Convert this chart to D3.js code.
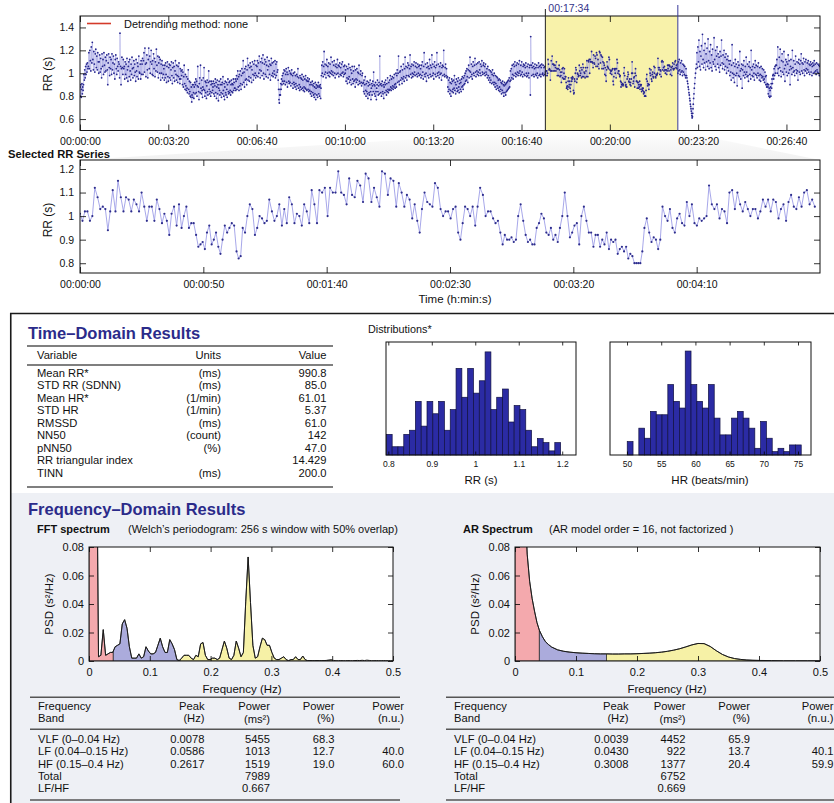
<!DOCTYPE html>
<html>
<head>
<meta charset="utf-8">
<script src="https://cdn.jsdelivr.net/npm/d3@7"></script>
<style>
  body { margin: 0; background: #fff; }
  svg { display: block; }
</style>
</head>
<body>
<svg id="chart" width="834" height="803"></svg>
<script>
// ---------------- data ----------------
// RR intervals (ms) of the whole recording, split around the analysed window
const rrBefore = [
880,800,900,790,860,910,820,880,850,
900,990,940,1030,960,1060,990,1080,1010,1090,1040,
1060,1180,1040,1200,1110,1020,1230,1090,1270,1120,1030,1190,1080,1010,1170,1210,1050,1150,1030,1180,1100,1000,
1100,1160,1010,1130,1040,960,1170,1060,1120,990,1180,1070,1010,1140,1020,1110,1160,1030,900,1090,1170,1050,980,1140,1040,1120,990,1170,1030,1090,1150,1000,1080,950,1120,1160,1040,990,1130,1060,1020,1100,
1080,960,1350,1060,900,1040,1140,1050,990,1120,1040,
1060,950,1100,990,1080,960,1130,1030,930,1060,1100,970,1120,1020,940,1080,990,1140,1040,960,1050,1110,980,1080,1010,930,1120,1020,970,1090,1060,950,1150,1010,1000,1080,950,1110,990,
1080,1130,990,1110,1180,1010,1220,1080,970,1090,1160,1030,960,1120,1220,1040,1150,1000,1100,1200,1080,990,1110,980,1170,1040,1130,970,1100,1020,1210,1070,1010,1150,960,1090,1140,1000,1120,940,1080,1000,1110,960,1070,990,
1040,940,1070,960,1090,990,920,1060,1100,970,930,1050,1080,960,1070,940,1030,1100,980,910,1050,1090,960,1060,930,1020,1110,990,940,1070,980,920,1060,970,1090,950,910,1040,950,1020,
980,1030,900,1010,880,970,1070,910,860,990,890,850,970,870,830,950,1030,860,820,930,840,800,920,790,880,750,810,900,790,900,830,780,880,920,820,
900,950,830,930,800,890,1060,880,840,770,910,960,830,1070,870,820,940,850,790,880,960,860,1050,850,800,930,830,920,780,890,940,840,810,920,1020,860,820,930,840,800,900,930,830,910,850,
880,930,820,910,800,890,950,830,920,780,880,940,820,900,760,870,930,850,810,900,950,830,790,900,920,820,970,850,800,910,770,880,930,830,810,920,860,790,900,950,840,820,920,830,930,850,810,900,940,840,910,830,900,950,850,920,870,
870,950,850,930,980,860,950,1020,880,970,850,990,890,1020,910,860,980,1040,900,1000,1110,920,1010,880,1040,940,1060,950,900,1030,1130,940,1070,970,930,1050,1090,960,1060,920,1030,1100,990,940,1080,980,1110,1000,960,1070,980,
1060,1110,970,1090,1000,1150,1030,960,1100,1020,1130,980,1090,1160,1000,950,1080,1120,990,1100,970,1070,1140,1030,960,1060,1110,990,1080,940,1070,1130,980,1090,1000,970,1100,1020,990,1110,960,1080,980,1100,1010,
1030,940,860,770,740,810,860,810,910,860,950,900,980,930,
1000,910,1030,930,1020,900,990,1040,920,1010,880,990,1050,930,910,1020,920,1000,890,990,1030,910,980,870,1000,920,900,1010,880,980,910,860,990,890,970,1040,870,960,900,850,980,880,960,860,950,990,870,940,850,970,880,840,950,870,980,860,940,850,930,960,860,930,840,950,850,
900,820,920,840,800,900,930,830,890,810,910,790,880,820,920,770,870,900,810,890,790,880,920,820,890,800,880,900,780,870,
980,1070,1000,1100,970,1060,1190,990,1080,1010,960,1070,1120,1000,1060,980,1090,1010,970,1080,1000,1140,1020,990,1100,1010,980,1070,1110,1000,960,1060,1080,990,1050,1120,1000,1070,970,1060,1090,990,1050,980,1080,1000,1100,1010,970,1060,990,1070,1000,
1030,930,1060,960,910,1040,950,1080,970,920,1050,940,1030,900,1000,1060,950,910,1020,930,1060,940,880,1030,950,920,1040,940,1010,900,1000,1070,930,910,990,1020,920,890,980,1000,910,
920,840,940,820,900,970,850,800,910,840,930,820,780,890,920,830,810,900,940,840,770,870,910,810,890,930,840,1010,900,820,890,800,920,840,770,870,900,940,840,810,890,920,820,1150,900,830,910,800,890,930,840,820,900,780,880,920,830,900,940,850,810,910,840,960,860,830,920,850,940,860,980,880,850,950,870,970,890,860,960,880,990,900,870,
910,1000,880,980,1030,920,1000,1150,930,900,1010,1020,940,1060,960,910,1030,950,1080,970,930,1040,1140,960,1060,980,940,1050,1090,980,1070,970,1040,1160,990,1060,960,1080,1000,970,1070,990,1100,1010,980,1060,1090,990,1050,970,1080,1000,1060,980,1070,990,
1040,960,1070,980,1100,1010,950,1060,1180,990,970,1080,1000,930,1050,1090,980,1060,960,1040,1120,990,1070,970,1050,1160,980,1080,1000,950,1060,1100,990,1050,970,1070,1180,1000,980,1080,1010,960,1060,990,1090,1000,940,1050,1070,980,1060,1200,990,970,1050,1080,980,1040,960,
970,880,840,940,860,960,820,920,850,800,910,950,840,930,860,830,940,870,980,850,920,820,900,950,870,840,930,850,960,880,830,910,940,860,920,840,950,880,970,890,860,960,900,980,
910,1000,930,1020,940,1040,970,920,1030,1070,960,1020,1140,1010,970,1080,990,950,1060,1100,1000,980,1070,1130,1010,970,1080,1020,990,1090,1010,980,1100,1030,1000,1080,980,1060,1110,1010,990,1070,1090,1000,1060,980,1080,1010,990,
1040,960,1060,980,940,1030,960,920,1020,940,1010,910,990,1030,920,980,900,1000,920,880,980,910,860,970,890,960,870,940,850,950,880,840,940,860,920,820,910,850,930,830,900,800,890,920,830,900,810,910,840,920,850,930,860,940,870,960,880,
930,1020,940,1040,960,1070,990,950,1080,980,1060,1100,1000,970,1070,990,1090,1010,980,1080,1000,1110,1020,980,1070,990,1100,1010,970,1060,1080,990,1070,980,1050,1090,1000,970,1060,980,1080,1000,960,1050,1070,810,1320,1070,980,1050,1090,990,1060,970,1040,1080,990,1050,980,1070,1000,960,1050,1090,980,1060,990,1070,970,1050,1080,990,1000,1070,980,1050,990,1060
];

// RR intervals (ms) of the selected 5-minute window
const rrSelected = [
1010,980,1020,1020,980,1000,1120,1080,1030,1040,1030,940,1020,1110,1020,1150,1080,1020,1080,1070,
1020,1070,1050,1020,1100,1040,980,1040,1040,980,1070,1030,970,1010,980,920,1010,1040,960,1050,
950,1000,1040,950,970,970,920,870,880,890,860,
930,960,880,900,930,870,840,900,960,930,950,970,960,850,820,830,950,930,1000,1050,
1030,920,950,1000,990,970,980,1070,1020,980,1000,1050,960,1030,970,1080,1050,970,1010,1000,
960,1050,1020,970,1110,1050,970,1110,1100,1120,1000,1120,1100,1100,1190,1100,1090,1050,1160,1090,
1080,1150,1130,1060,1180,1160,1060,1120,1080,1040,1190,1180,1090,1160,1150,1040,1140,1100,1040,1090,
1070,990,
1050,980,930,1030,1100,1060,1050,1040,1140,1120,
1030,1000,1020,1020,990,1030,1040,930,900,970,
1040,1030,1000,1040,960,1040,1120,1090,1000,1020,1020,990,970,
980,930,880,920,900,900,910,890,900,1000,
1050,980,920,890,900,880,880,950,970,1010,
990,930,920,950,900,920,890,950,1000,1100,1000,910,
930,960,970,880,1000,1040,980,930,930,870,
920,920,870,900,880,930,860,900,890,900,840,860,
870,850,870,820,840,830,800,800,800,800,
850,950,990,930,890,910,900,860,900,1040,
1000,980,1030,950,930,990,1010,970,960,1060,
1000,1050,970,960,990,980,990,1000,1130,1050,
1030,1050,990,1030,1020,970,1100,1110,1030,1100,
1050,1020,1060,1030,1000,1030,1030,990,1020,1070,
1040,1070,1020,1070,1060,990,1030,1050,980,1060,
1090,1040,1030,1080,1040,1100,1110,1050,1070,1040
];

const rrAfter = [
1080,1000,1100,1020,1120,1030,990,1090,1010,1110,1020,980,1080,1010,1070,990,1060,980,960,1040,
980,960,930,910,880,860,830,810,780,760,730,710,690,670,650,630,610,620,650,690,730,780,820,870,910,960,1000,1040,
1080,1180,1050,1230,1100,1290,1060,1190,1030,1150,1240,1080,1340,1120,1050,1200,1090,1260,1030,1170,1100,1220,1060,1300,1110,1040,1190,1090,1250,1050,1160,1020,1210,1100,1080,1310,1120,1060,1200,1030,1150,1230,1080,1170,1050,1140,1010,1190,1070,1150,1290,1090,1040,1160,1080,1200,1030,1140,1060,1170,1000,1120,1050,1150,1020,1110,
1080,980,1110,1010,940,1070,1250,1000,960,1090,990,920,1060,1120,980,1080,1000,890,1050,1100,980,1070,970,1190,1020,950,1040,1080,870,1030,1070,980,1110,1010,960,1060,990,1140,1010,970,1080,980,930,1060,1100,990,1050,950,1200,1030,980,1060,970,1080,1000,940,1050,1110,990,1070,980,960,1060,1000,1090,980,940,1050,990,930,1060,980,960,1040,970,940,1030,950,920,1010,
970,900,980,880,900,910,880,820,900,800,870,790,850,880,800,910,870,950,910,980,990,950,1040,980,1060,1000,1070,
1070,1120,1000,1230,1040,980,1140,1050,1210,1020,970,1110,1170,1010,1100,990,1190,1040,930,1070,1120,1010,1100,980,1080,1160,1000,1110,1030,900,1060,1120,1040,990,1200,1050,1010,1110,1020,980,1080,1150,1030,1000,1100,1020,940,1090,1120,1010,1080,990,1110,1170,1020,1090,1000,1080,1130,1030,980,1100,1020,1120,1040,1000,1090,1030,1110,1010,1080,990,1070,1100,1010,1080,980,1060,1090,1000,1070,1110,1010,1080,1020,990,1090,1030,1010,1080,1000,1070,980,1060,1080
];

const recordLength = 1676;           // s
const selStart = 1054;               // s, start of analysed window
const selDuration = 300;             // s
const selLabel = "00:17:34";
const overviewTimeTicks = [0, 200, 400, 600, 800, 1000, 1200, 1400, 1600];
const overviewRRTicks = [0.6, 0.8, 1.0, 1.2, 1.4];
const selectedTimeTicks = [0, 50, 100, 150, 200, 250];
const selectedRRTicks = [0.8, 0.9, 1.0, 1.1, 1.2];

// Distributions (counts per bin)
const rrHistStart = 0.7955, rrHistWidth = 0.01336;
const rrHistCounts = [5,2,2,5,6,13,7,13,10,13,6,11,21,14,21,15,18,25,11,14,16,8,12,11,6,2,4,3,1,3];
const rrHistTicks = [0.8, 0.9, 1.0, 1.1, 1.2];
const hrHistStart = 50.03, hrHistWidth = 0.848;
const hrHistCounts = [4,0,8,5,13,12,12,21,16,14,31,21,16,14,21,11,6,6,11,13,11,8,2,10,5,1,2,1,3,3];
const hrHistTicks = [50, 55, 60, 65, 70, 75];

// Welch periodogram, bins of 1/256 Hz from 0 to 0.5 Hz (s^2/Hz)
const fftBinHz = 1 / 256;
const fftPsd = [
0.30,0.45,0.48,0.21,0.003,0.004,0.022,0.004,0.005,0.006,
0.006,0.010,0.011,0.012,0.026,0.029,0.023,0.010,0.002,0.002,
0.002,0.005,0.002,0.003,0.010,0.007,0.005,0.005,0.006,0.011,
0.016,0.010,0.006,0.006,0.015,0.012,0.008,0.001,0.0003,0.002,
0.004,0.004,0.004,0.002,0.001,0.004,0.003,0.012,0.013,0.004,
0.001,0.001,0.002,0.002,0.001,0.002,0.008,0.014,0.009,0.002,
0.001,0.004,0.014,0.009,0.003,0.006,0.042,0.073,0.041,0.011,
0.002,0.003,0.010,0.016,0.015,0.011,0.011,0.006,0.002,0.001,
0.001,0.002,0.003,0.001,0.0002,0.001,0.001,0.003,0.001,0.001,
0.0035,0.001,0.0002,0.0003,0.0002,0.0002,0.0003,0.0002,0.0002,0.0003,
0.0004,0.0006,0.0008,0.0004,0.0002,0.0002,0.0003,0.0002,0.0002,0.0003,
0.0002,0.0002,0.0003,0.0004,0.0003,0.0005,0.0003,0.0006,0.0004,0.0002,
0.0002,0.0003,0.0002,0.0002,0.0003,0.0002,0.0002,0.0002,0.0002
];

// AR spectrum (order 16)
const arFreq = [0,0.004,0.008,0.012,0.016,0.02,0.024,0.028,0.032,0.036,0.04,0.045,0.05,0.055,0.06,0.07,0.08,0.09,0.1,0.11,0.12,0.13,0.14,0.15,0.16,0.17,0.18,0.19,0.2,0.21,0.22,0.23,0.24,0.25,0.26,0.27,0.28,0.29,0.3,0.31,0.32,0.33,0.34,0.35,0.36,0.37,0.38,0.39,0.4,0.42,0.44,0.46,0.48,0.5];
const arPsd = [0.38,0.34,0.27,0.19,0.115,0.075,0.056,0.044,0.035,0.027,0.0215,0.017,0.0135,0.0115,0.0098,0.0078,0.0068,0.0062,0.0058,0.0055,0.0053,0.0051,0.005,0.005,0.0049,0.0049,0.005,0.005,0.0051,0.0053,0.0055,0.0058,0.0062,0.0068,0.0076,0.0086,0.0099,0.0113,0.0123,0.0122,0.0102,0.0072,0.0046,0.0028,0.0017,0.0011,0.0007,0.0005,0.0004,0.0003,0.0002,0.0002,0.0002,0.0002];

const bandEdges = [[0, 0.04], [0.04, 0.15], [0.15, 0.4]];
const bandColors = ["#f4a9ad", "#ababdc", "#f6f1a6"];
const freqTicks = [0, 0.1, 0.2, 0.3, 0.4, 0.5];
const psdTicks = [0, 0.02, 0.04, 0.06, 0.08];

// Time-domain table
const tdVariables = ["Mean RR*", "STD RR (SDNN)", "Mean HR*", "STD HR", "RMSSD", "NN50", "pNN50", "RR triangular index", "TINN"];
const tdUnits = ["(ms)", "(ms)", "(1/min)", "(1/min)", "(ms)", "(count)", "(%)", "", "(ms)"];
const tdValues = ["990.8", "85.0", "61.01", "5.37", "61.0", "142", "47.0", "14.429", "200.0"];

// Frequency-domain tables
const fdBands = ["VLF (0\u20130.04 Hz)", "LF (0.04\u20130.15 Hz)", "HF (0.15\u20130.4 Hz)", "Total", "LF/HF"];
const fftPeak = ["0.0078", "0.0586", "0.2617", "", ""];
const fftPower = ["5455", "1013", "1519", "7989", "0.667"];
const fftPct = ["68.3", "12.7", "19.0", "", ""];
const fftNu = ["", "40.0", "60.0", "", ""];
const arPeak = ["0.0039", "0.0430", "0.3008", "", ""];
const arPower = ["4452", "922", "1377", "6752", "0.669"];
const arPct = ["65.9", "13.7", "20.4", "", ""];
const arNu = ["", "40.1", "59.9", "", ""];

// ---------------- drawing ----------------
const FONT = '"Liberation Sans", Arial, Helvetica, sans-serif';
const TITLE_BLUE = "#2b2b8a";
const svg = d3.select("#chart").attr("font-family", FONT);
const defs = svg.append("defs");

const hms = s => {
  s = Math.round(s);
  const h = Math.floor(s / 3600), m = Math.floor((s % 3600) / 60), r = s % 60;
  return [h, m, r].map(v => String(v).padStart(2, "0")).join(":");
};
const numFmt = v => String(+v.toFixed(3));

let clipId = 0;
function clipRect(x, y, w, h) {
  const id = "clip" + (clipId++);
  defs.append("clipPath").attr("id", id).append("rect")
    .attr("x", x).attr("y", y).attr("width", w).attr("height", h);
  return `url(#${id})`;
}

// MATLAB-like boxed axes with inward ticks on all four sides
function boxAxes(g, x, y, o) {
  const [x0, x1] = x.range(), [yb, yt] = y.range();
  const tl = o.tick || 5;
  const fs = o.fs || 10.5;
  if (o.xTicks) {
    g.append("g").attr("transform", `translate(0,${yb})`)
      .call(d3.axisBottom(x).tickValues(o.xTicks).tickSize(-tl).tickPadding(o.xPad || 7).tickFormat(o.xFmt))
      .call(s => s.attr("font-family", FONT).attr("font-size", o.xfs || fs));
    g.append("g").attr("transform", `translate(0,${yt})`)
      .call(d3.axisTop(x).tickValues(o.xTicks).tickSize(-tl).tickFormat(""));
  }
  if (o.yTicks) {
    g.append("g").attr("transform", `translate(${x0},0)`)
      .call(d3.axisLeft(y).tickValues(o.yTicks).tickSize(-tl).tickPadding(o.yPad || 6).tickFormat(o.yFmt))
      .call(s => s.attr("font-family", FONT).attr("font-size", fs));
    g.append("g").attr("transform", `translate(${x1},0)`)
      .call(d3.axisRight(y).tickValues(o.yTicks).tickSize(-tl).tickFormat(""));
  }
  g.selectAll(".domain").remove();
  g.selectAll(".tick line").attr("stroke", "#000").attr("stroke-width", 0.8);
  g.selectAll(".tick text").attr("fill", "#111");
  g.append("rect").attr("x", x0).attr("y", yt).attr("width", x1 - x0).attr("height", yb - yt)
    .attr("fill", "none").attr("stroke", "#111").attr("stroke-width", 1);
}

function text(g, x, y, str, o = {}) {
  return g.append("text").attr("x", x).attr("y", y).text(str)
    .attr("font-size", o.fs || 11).attr("font-weight", o.bold ? "bold" : null)
    .attr("text-anchor", o.anchor || "start").attr("fill", o.fill || "#111");
}

// ---------- overview tachogram ----------
const allRR = rrBefore.concat(rrSelected, rrAfter);
const startTime = selStart - d3.sum(rrBefore) / 1000;
const overview = [];
{
  let t = startTime;
  allRR.forEach(v => { overview.push({ t, rr: v / 1000 }); t += v / 1000; });
}
const selected = [];
{
  let t = 0;
  rrSelected.forEach(v => { selected.push({ t, rr: v / 1000 }); t += v / 1000; });
}

const xO = d3.scaleLinear().domain([0, recordLength]).range([80, 820]);
const yO = d3.scaleLinear().domain([0.5, 1.5]).range([130.5, 16]);
const gO = svg.append("g");

// faint band linking the selection to the zoomed series below
const grad = defs.append("linearGradient").attr("id", "linkGrad").attr("x1", 0).attr("y1", 0).attr("x2", 0).attr("y2", 1);
grad.append("stop").attr("offset", 0).attr("stop-color", "#e8e8e8").attr("stop-opacity", 0.0);
grad.append("stop").attr("offset", 0.5).attr("stop-color", "#e8e8e8").attr("stop-opacity", 0.35);
grad.append("stop").attr("offset", 1).attr("stop-color", "#e8e8e8").attr("stop-opacity", 0.6);
gO.append("path")
  .attr("d", d3.line()([[xO(selStart), 131], [xO(selStart + selDuration), 131], [820, 160], [80, 160]]) + "Z")
  .attr("fill", "url(#linkGrad)");

gO.append("rect")
  .attr("x", xO(selStart)).attr("y", yO.range()[1])
  .attr("width", xO(selStart + selDuration) - xO(selStart))
  .attr("height", yO.range()[0] - yO.range()[1])
  .attr("fill", "#f8f2aa");

const clipO = clipRect(80, 16, 740, 114.5);
gO.append("path").datum(overview).attr("clip-path", clipO)
  .attr("d", d3.line().x(d => xO(d.t)).y(d => yO(d.rr)))
  .attr("fill", "none").attr("stroke", "#a4a4e4").attr("stroke-width", 0.55);
gO.append("g").attr("clip-path", clipO).selectAll("circle").data(overview).join("circle")
  .attr("cx", d => xO(d.t)).attr("cy", d => yO(d.rr)).attr("r", 0.9).attr("fill", "#26268e");

boxAxes(gO, xO, yO, {
  xTicks: overviewTimeTicks, xFmt: hms, xPad: 7,
  yTicks: overviewRRTicks, yFmt: numFmt, tick: 6
});
// selection edges
gO.append("line").attr("x1", xO(selStart)).attr("x2", xO(selStart)).attr("y1", 9).attr("y2", 130.5)
  .attr("stroke", "#222").attr("stroke-width", 1);
gO.append("line").attr("x1", xO(selStart + selDuration)).attr("x2", xO(selStart + selDuration)).attr("y1", 5).attr("y2", 130.5)
  .attr("stroke", "#3a3a9a").attr("stroke-width", 1);
text(gO, xO(selStart) + 3, 11.5, selLabel, { fs: 10.5, fill: "#34348a" });

// legend
gO.append("line").attr("x1", 87).attr("x2", 111).attr("y1", 23.5).attr("y2", 23.5).attr("stroke", "#d43a2a").attr("stroke-width", 1.6);
text(gO, 124, 27.5, "Detrending method: none", { fs: 11 });
text(gO, 0, 0, "RR (s)", { fs: 12, anchor: "middle" }).attr("transform", "translate(52,74) rotate(-90)");

// ---------- selected window ----------
text(svg, 8, 157.5, "Selected RR Series", { fs: 11.2, bold: true });
const xS = d3.scaleLinear().domain([0, selDuration]).range([80, 820]);
const yS = d3.scaleLinear().domain([0.7585, 1.2382]).range([273, 160]);
const gS = svg.append("g");
gS.append("rect").attr("x", 80).attr("y", 160).attr("width", 740).attr("height", 113).attr("fill", "#fff");
const clipS = clipRect(80, 160, 740, 113);
gS.append("path").datum(selected).attr("clip-path", clipS)
  .attr("d", d3.line().x(d => xS(d.t)).y(d => yS(d.rr)))
  .attr("fill", "none").attr("stroke", "#9d9de6").attr("stroke-width", 0.9);
gS.append("g").attr("clip-path", clipS).selectAll("circle").data(selected).join("circle")
  .attr("cx", d => xS(d.t)).attr("cy", d => yS(d.rr)).attr("r", 1.1).attr("fill", "#2d2d8c");
boxAxes(gS, xS, yS, {
  xTicks: selectedTimeTicks, xFmt: hms, xPad: 7.5,
  yTicks: selectedRRTicks, yFmt: numFmt, tick: 6
});
text(gS, 0, 0, "RR (s)", { fs: 12, anchor: "middle" }).attr("transform", "translate(52,220) rotate(-90)");
text(gS, 455, 303, "Time (h:min:s)", { fs: 11.5, anchor: "middle" });

// ---------- results panel ----------
const panel = svg.append("g");
panel.append("rect").attr("x", 10).attr("y", 313).attr("width", 830).attr("height", 500).attr("fill", "#fff");
panel.append("rect").attr("x", 10).attr("y", 493).attr("width", 830).attr("height", 320).attr("fill", "#eef0f5");
panel.append("path").attr("d", "M834,313.5H10.75V803").attr("fill", "none").attr("stroke", "#1a1a1a").attr("stroke-width", 1.6);

// Time-domain table
text(panel, 28, 338.5, "Time\u2013Domain Results", { fs: 16.5, bold: true, fill: TITLE_BLUE });
const rule = (g, x1, x2, y) => g.append("line").attr("x1", x1).attr("x2", x2).attr("y1", y).attr("y2", y)
  .attr("stroke", "#555").attr("stroke-width", 1.4);
rule(panel, 27, 333, 346);
rule(panel, 27, 333, 365);
rule(panel, 27, 333, 487);
text(panel, 37, 358.5, "Variable", { fs: 11.2 });
text(panel, 221, 358.5, "Units", { fs: 11.2, anchor: "end" });
text(panel, 326.5, 358.5, "Value", { fs: 11.2, anchor: "end" });
tdVariables.forEach((v, i) => {
  const y = 376.7 + i * 12.5;
  text(panel, 37, y, v, { fs: 11.2 });
  text(panel, 221, y, tdUnits[i], { fs: 11.2, anchor: "end" });
  text(panel, 326.5, y, tdValues[i], { fs: 11.2, anchor: "end" });
});

// Distributions
text(panel, 368, 332.5, "Distributions*", { fs: 10.8 });
function histogram(x0, x1, domainX, maxY, start, width, counts, ticks, label, labelX) {
  const x = d3.scaleLinear().domain(domainX).range([x0, x1]);
  const y = d3.scaleLinear().domain([0, maxY]).range([455, 342]);
  const g = panel.append("g");
  g.selectAll("rect.bar").data(counts).join("rect").attr("class", "bar")
    .attr("x", (d, i) => x(start + i * width)).attr("width", (d, i) => x(start + (i + 1) * width) - x(start + i * width))
    .attr("y", d => y(d)).attr("height", d => y(0) - y(d))
    .attr("fill", "#2b2ba4").attr("stroke", "#101040").attr("stroke-width", 0.7)
    .attr("display", d => d > 0 ? null : "none");
  boxAxes(g, x, y, { xTicks: ticks, xFmt: numFmt, xPad: 6, xfs: 8.5, tick: 3.5 });
  text(g, labelX, 484, label, { fs: 11.5, anchor: "middle" });
}
histogram(386, 576, [0.7947, 1.2317], 27.4, rrHistStart, rrHistWidth, rrHistCounts, rrHistTicks, "RR (s)", 481);
histogram(610, 811, [47.51, 76.9], 33.7, hrHistStart, hrHistWidth, hrHistCounts, hrHistTicks, "HR (beats/min)", 710);

// Frequency-domain results
text(panel, 28, 515, "Frequency\u2013Domain Results", { fs: 16.5, bold: true, fill: TITLE_BLUE });
text(panel, 37, 532.5, "FFT spectrum", { fs: 11, bold: true });
text(panel, 128, 532.5, "(Welch\u2019s periodogram: 256 s window with 50% overlap)", { fs: 11 });
text(panel, 463, 532.5, "AR Spectrum", { fs: 11, bold: true });
text(panel, 549, 532.5, "(AR model order = 16, not factorized )", { fs: 11 });

function spectrum(x0, x1, freqs, psd, labelX) {
  const x = d3.scaleLinear().domain([0, 0.5]).range([x0, x1]);
  const y = d3.scaleLinear().domain([0, 0.08]).range([661, 547]);
  const g = panel.append("g");
  g.append("rect").attr("x", x0).attr("y", 547).attr("width", x1 - x0).attr("height", 114).attr("fill", "#fff");
  const clip = clipRect(x0, 547, x1 - x0, 114);
  const pts = freqs.map((f, i) => [f, psd[i]]);
  const valueAt = f => {
    const i = d3.bisector(p => p[0]).left(pts, f);
    if (i <= 0) return pts[0][1];
    const [fa, pa] = pts[i - 1], [fb, pb] = pts[i];
    return pa + (pb - pa) * (f - fa) / (fb - fa);
  };
  bandEdges.forEach(([lo, hi], b) => {
    const poly = [[lo, 0], [lo, valueAt(lo)]]
      .concat(pts.filter(p => p[0] > lo && p[0] < hi))
      .concat([[hi, valueAt(hi)], [hi, 0]]);
    g.append("path").attr("clip-path", clip)
      .attr("d", d3.line().x(p => x(p[0])).y(p => y(p[1]))(poly) + "Z")
      .attr("fill", bandColors[b]).attr("stroke", "#222").attr("stroke-width", 0.7);
  });
  g.append("path").datum(pts).attr("clip-path", clip)
    .attr("d", d3.line().x(p => x(p[0])).y(p => y(p[1])))
    .attr("fill", "none").attr("stroke", "#1a1a1a").attr("stroke-width", 1);
  boxAxes(g, x, y, {
    xTicks: freqTicks, xFmt: numFmt, xPad: 7, fs: 11,
    yTicks: psdTicks, yFmt: numFmt, yPad: 5, tick: 5
  });
  text(g, 0, 0, "PSD (s\u00b2/Hz)", { fs: 11.5, anchor: "middle" })
    .attr("transform", `translate(${x0 - 36},604) rotate(-90)`);
  text(g, labelX, 692.5, "Frequency (Hz)", { fs: 11.5, anchor: "middle" });
}
spectrum(89, 393, fftPsd.map((p, i) => i * fftBinHz), fftPsd, 242);
spectrum(515, 820, arFreq, arPsd, 667);

function bandTable(x0, x1, cols, peak, power, pct, nu) {
  const g = panel.append("g");
  rule(g, x0 - 8, x1, 697.3);
  rule(g, x0 - 8, x1, 729.3);
  rule(g, x0 - 8, x1, 800);
  text(g, x0, 709.5, "Frequency", { fs: 11.2 });
  text(g, x0, 721.7, "Band", { fs: 11.2 });
  const heads = [["Peak", "(Hz)"], ["Power", "(ms\u00b2)"], ["Power", "(%)"], ["Power", "(n.u.)"]];
  heads.forEach(([a, b], j) => {
    text(g, cols[j], 709.5, a, { fs: 11.2, anchor: "end" });
    text(g, cols[j], j === 1 ? 723 : 721.7, b, { fs: 11.2, anchor: "end" });
  });
  fdBands.forEach((band, i) => {
    const y = 743.3 + i * 12.15;
    text(g, x0, y, band, { fs: 11.2 });
    [peak, power, pct, nu].forEach((arr, j) => {
      if (arr[i]) text(g, cols[j], y, arr[i], { fs: 11.2, anchor: "end" });
    });
  });
}
bandTable(38, 400, [204.5, 270, 334.5, 404], fftPeak, fftPower, fftPct, fftNu);
bandTable(454, 834, [628.5, 685.5, 750, 833.5], arPeak, arPower, arPct, arNu);
</script>
</body>
</html>
